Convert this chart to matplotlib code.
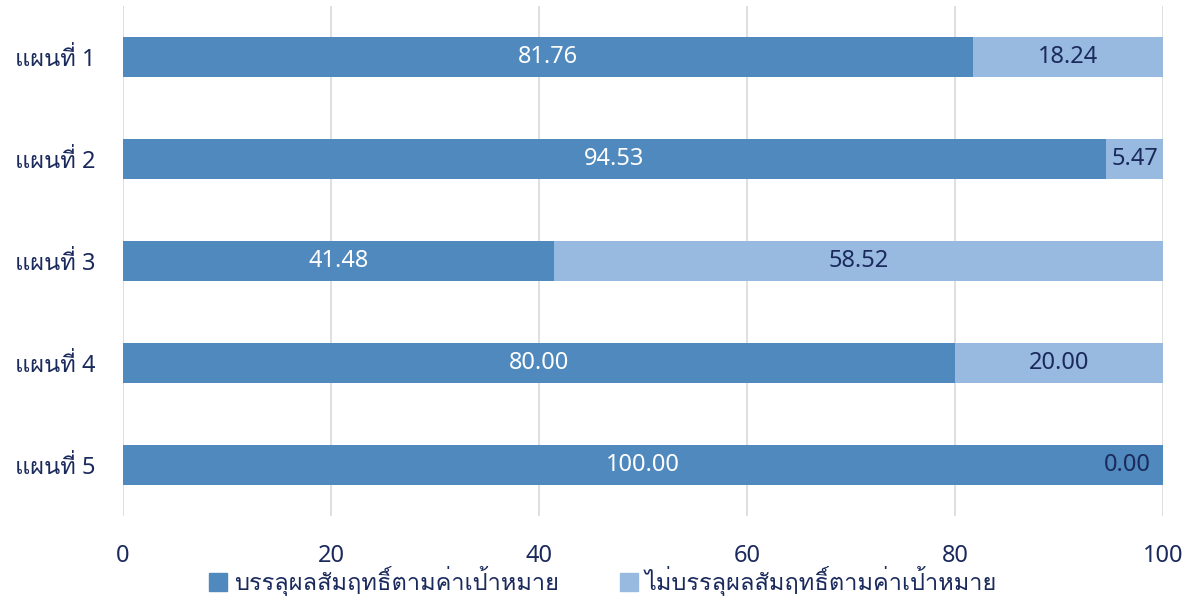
import matplotlib
matplotlib.use("Agg")
import matplotlib.pyplot as plt
from matplotlib import font_manager
from matplotlib.ft2font import FT2Font
from matplotlib.patches import Patch

categories = ["แผนที่ 1", "แผนที่ 2", "แผนที่ 3", "แผนที่ 4", "แผนที่ 5"]
achieved = [81.76, 94.53, 41.48, 80.00, 100.00]
not_achieved = [18.24, 5.47, 58.52, 20.00, 0.00]
series_names = ["บรรลุผลสัมฤทธิ์ตามค่าเป้าหมาย", "ไม่บรรลุผลสัมฤทธิ์ตามค่าเป้าหมาย"]
x_ticks = [0, 20, 40, 60, 80, 100]

DARK = "#4f89bd"
LIGHT = "#98b9e0"
NAVY = "#1b2a5c"
GRID = "#d9d9d9"


def thai_family():
    # pick any installed font that has Thai glyphs
    for f in font_manager.fontManager.ttflist:
        try:
            cmap = FT2Font(f.fname).get_charmap()
        except Exception:
            continue
        if 0x0E1C in cmap and 0x0E4C in cmap:
            return f.name
    return None


fam = thai_family()
# Noto Sans for digits, Thai font picks up the Thai glyphs
families = ["Noto Sans"] + ([fam] if fam else []) + ["DejaVu Sans"]
plt.rcParams["font.family"] = families

fig = plt.figure(figsize=(11.92, 5.98), dpi=100)
ax = fig.add_axes([123 / 1192, 1 - 516 / 598, 1040 / 1192, 510 / 598])

y = list(range(len(categories)))
ax.barh(y, achieved, height=0.4, color=DARK, zorder=2)
ax.barh(y, not_achieved, left=achieved, height=0.4, color=LIGHT, zorder=2)

for i, (a, b) in enumerate(zip(achieved, not_achieved)):
    ax.text(a / 2, i, f"{a:.2f}", ha="center", va="center",
            color="white", fontsize=17, zorder=3)
    if b > 0:
        ax.text(a + b / 2, i, f"{b:.2f}", ha="center", va="center",
                color=NAVY, fontsize=17, zorder=3)
    else:
        ax.text(100 - 1.2, i, f"{b:.2f}", ha="right", va="center",
                color=NAVY, fontsize=17, zorder=3)

ax.set_xlim(0, 100)
ax.set_ylim(len(categories) - 0.5, -0.5)
ax.set_xticks(x_ticks)
ax.set_yticks(y)
ax.set_yticklabels(categories)
ax.tick_params(axis="both", length=0, colors=NAVY, labelsize=17)
ax.tick_params(axis="x", pad=20)
ax.tick_params(axis="y", pad=20)
ax.grid(axis="x", color=GRID, linewidth=1.2, zorder=0)
for s in ax.spines.values():
    s.set_visible(False)

handles = [Patch(color=DARK), Patch(color=LIGHT)]
fig.legend(handles, series_names, loc="center", bbox_to_anchor=(0.506, 0.028),
           ncol=2, frameon=False, fontsize=17, labelcolor=NAVY,
           handlelength=0.75, handleheight=0.75, handletextpad=0.3,
           columnspacing=2.6)

fig.savefig("out.png", dpi=100)
